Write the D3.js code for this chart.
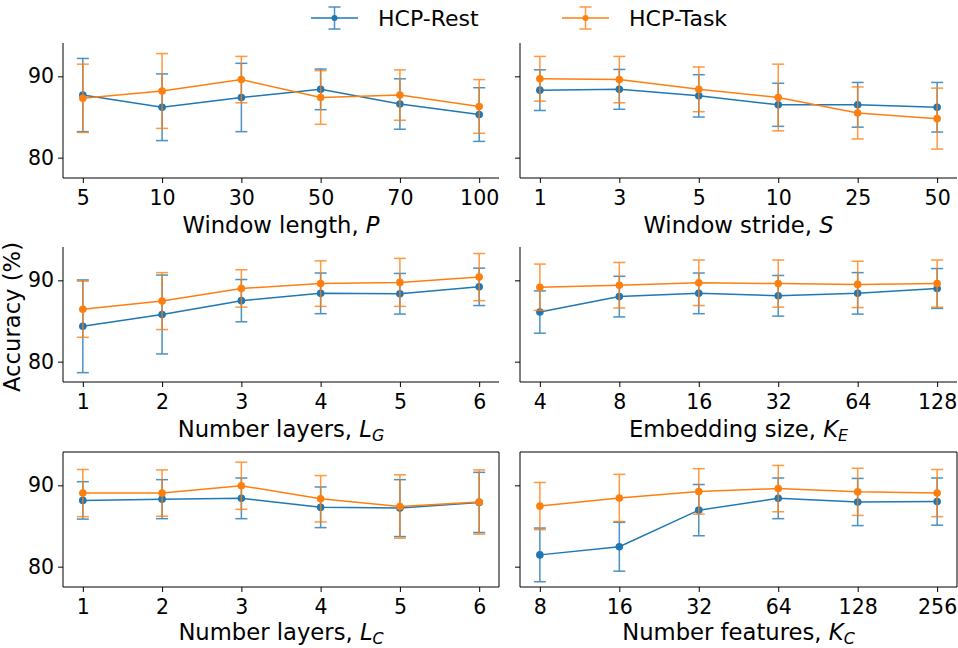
<!DOCTYPE html>
<html><head><meta charset="utf-8">
<script src="https://cdn.jsdelivr.net/npm/d3@7"></script>
<style>body{margin:0;background:#fff;} svg{display:block;font-family:"DejaVu Sans",sans-serif;}</style>
</head><body>
<svg id="c" width="958" height="648"></svg>
<script>
// ---- data ----
const seriesNames = ["HCP-Rest", "HCP-Task"];
const colors = ["#1f77b4", "#ff7f0e"];
const yTicks = [80, 90];

const catsP = ["5", "10", "30", "50", "70", "100"];
const restP = [87.7, 86.2, 87.4, 88.4, 86.6, 85.3];
const restPErr = [4.5, 4.1, 4.2, 2.5, 3.1, 3.3];
const taskP = [87.3, 88.2, 89.6, 87.4, 87.7, 86.3];
const taskPErr = [4.2, 4.6, 2.85, 3.3, 3.1, 3.3];

const catsS = ["1", "3", "5", "10", "25", "50"];
const restS = [88.3, 88.4, 87.6, 86.5, 86.5, 86.2];
const restSErr = [2.5, 2.45, 2.6, 2.65, 2.75, 3.05];
const taskS = [89.7, 89.6, 88.4, 87.4, 85.5, 84.8];
const taskSErr = [2.75, 2.85, 2.75, 4.1, 3.2, 3.75];

const catsLG = ["1", "2", "3", "4", "5", "6"];
const restLG = [84.35, 85.8, 87.5, 88.4, 88.35, 89.2];
const restLGErr = [5.7, 4.85, 2.6, 2.5, 2.5, 2.3];
const taskLG = [86.45, 87.45, 89.0, 89.6, 89.75, 90.4];
const taskLGErr = [3.45, 3.5, 2.3, 2.8, 2.95, 2.9];

const catsKE = ["4", "8", "16", "32", "64", "128"];
const restKE = [86.1, 88.0, 88.4, 88.1, 88.4, 89.0];
const restKEErr = [2.6, 2.5, 2.5, 2.5, 2.55, 2.45];
const taskKE = [89.15, 89.4, 89.7, 89.6, 89.5, 89.6];
const taskKEErr = [2.85, 2.8, 2.8, 2.9, 2.85, 2.9];

const catsLC = ["1", "2", "3", "4", "5", "6"];
const restLC = [88.15, 88.3, 88.4, 87.3, 87.2, 87.9];
const restLCErr = [2.3, 2.4, 2.5, 2.5, 3.5, 3.7];
const taskLC = [89.05, 89.05, 89.95, 88.35, 87.4, 87.95];
const taskLCErr = [2.9, 2.85, 2.9, 2.85, 3.9, 3.95];

const catsKC = ["8", "16", "32", "64", "128", "256"];
const restKC = [81.45, 82.45, 86.95, 88.4, 87.95, 88.0];
const restKCErr = [3.3, 3.0, 3.15, 2.5, 2.9, 2.9];
const taskKC = [87.45, 88.45, 89.25, 89.6, 89.2, 89.05];
const taskKCErr = [2.9, 2.9, 2.8, 2.85, 2.9, 2.9];

const xLabels = [
  [["Window length, ", ""], ["P", "i"]],
  [["Window stride, ", ""], ["S", "i"]],
  [["Number layers, ", ""], ["L", "i"], ["G", "is"]],
  [["Embedding size, ", ""], ["K", "i"], ["E", "is"]],
  [["Number layers, ", ""], ["L", "i"], ["C", "is"]],
  [["Number features, ", ""], ["K", "i"], ["C", "is"]]
];

const panels = [
  {cats: catsP, s: [[restP, restPErr], [taskP, taskPErr]]},
  {cats: catsS, s: [[restS, restSErr], [taskS, taskSErr]]},
  {cats: catsLG, s: [[restLG, restLGErr], [taskLG, taskLGErr]]},
  {cats: catsKE, s: [[restKE, restKEErr], [taskKE, taskKEErr]]},
  {cats: catsLC, s: [[restLC, restLCErr], [taskLC, taskLCErr]]},
  {cats: catsKC, s: [[restKC, restKCErr], [taskKC, taskKCErr]]}
];

// ---- layout ----
const svg = d3.select("#c");
const colX = [[63, 499], [520, 957]];
const rowY = [[43, 178], [247, 382], [452, 587]];
const tickFs = 20.5, labFs = 22.7;

panels.forEach((p, i) => {
  const col = i % 2, row = Math.floor(i / 2);
  const [x0, x1] = colX[col], [y0, y1] = rowY[row];
  const x = d3.scaleLinear().domain([-0.25, p.cats.length - 0.75]).range([x0, x1]);
  const y = d3.scaleLinear().domain([77.5, 94.1]).range([y1, y0]);
  const g = svg.append("g");

  // axes
  const xa = d3.axisBottom(x).tickValues(d3.range(p.cats.length)).tickFormat(d => p.cats[d]).tickSize(5).tickPadding(7);
  const gx = g.append("g").attr("transform", `translate(0,${y1})`).call(xa);
  const ya = d3.axisLeft(y).tickValues(yTicks).tickSize(5).tickPadding(4);
  if (col === 1) ya.tickFormat("");
  const gy = g.append("g").attr("transform", `translate(${x0},0)`).call(ya);
  [gx, gy].forEach(a => {
    a.select(".domain").remove();
    a.selectAll("line").attr("stroke", "#000").attr("stroke-width", 1);
    a.selectAll("text").attr("font-size", tickFs).attr("fill", "#000").attr("font-family", "DejaVu Sans");
  });
  // spines
  const sp = g.append("g").attr("stroke", "#000").attr("stroke-width", 1).attr("fill", "none");
  sp.append("line").attr("x1", x0).attr("x2", x0).attr("y1", y0).attr("y2", y1);
  sp.append("line").attr("x1", x0).attr("x2", x1).attr("y1", y1).attr("y2", y1);
  if (row === 2) {
    sp.append("line").attr("x1", x0).attr("x2", x1).attr("y1", y0).attr("y2", y0);
    sp.append("line").attr("x1", x1).attr("x2", x1).attr("y1", y0).attr("y2", y1);
  }

  // series
  p.s.forEach(([vals, errs], k) => {
    const c = colors[k];
    const sg = g.append("g");
    const eb = sg.append("g").attr("stroke", c).attr("stroke-width", 1.5).attr("opacity", 0.8);
    vals.forEach((v, j) => {
      const cx = x(j);
      eb.append("line").attr("x1", cx).attr("x2", cx).attr("y1", y(v - errs[j])).attr("y2", y(v + errs[j]));
      eb.append("line").attr("x1", cx - 6).attr("x2", cx + 6).attr("y1", y(v - errs[j])).attr("y2", y(v - errs[j]));
      eb.append("line").attr("x1", cx - 6).attr("x2", cx + 6).attr("y1", y(v + errs[j])).attr("y2", y(v + errs[j]));
    });
    sg.append("path").datum(vals)
      .attr("d", d3.line().x((d, j) => x(j)).y(d => y(d)))
      .attr("fill", "none").attr("stroke", c).attr("stroke-width", 1.5);
    sg.selectAll("circle").data(vals).enter().append("circle")
      .attr("cx", (d, j) => x(j)).attr("cy", d => y(d)).attr("r", 3.8).attr("fill", c);
  });

  // x label
  const t = svg.append("text").attr("x", (x0 + x1) / 2).attr("y", y1 + (row === 2 ? 53 : 55))
    .attr("text-anchor", "middle").attr("font-size", labFs).attr("fill", "#000");
  xLabels[i].forEach(([s, st]) => {
    const ts = t.append("tspan").text(s);
    if (st.includes("i")) ts.attr("font-style", "italic");
    if (st.includes("s")) ts.attr("font-size", labFs * 0.7).attr("dy", 4);
  });
});

// y label
svg.append("text").attr("transform", "translate(20,317) rotate(-90)")
  .attr("text-anchor", "middle").attr("font-size", labFs).attr("fill", "#000").text("Accuracy (%)");

// legend
const leg = svg.append("g");
const legX = [311, 562];
seriesNames.forEach((n, k) => {
  const lx = legX[k], ly = 18, c = colors[k];
  const lg = leg.append("g");
  lg.append("line").attr("x1", lx).attr("x2", lx + 47).attr("y1", ly).attr("y2", ly).attr("stroke", c).attr("stroke-width", 1.5);
  const cx = lx + 23.5;
  const e = lg.append("g").attr("stroke", c).attr("stroke-width", 1.5).attr("opacity", 0.8);
  e.append("line").attr("x1", cx).attr("x2", cx).attr("y1", ly - 11).attr("y2", ly + 11);
  e.append("line").attr("x1", cx - 6).attr("x2", cx + 6).attr("y1", ly - 11).attr("y2", ly - 11);
  e.append("line").attr("x1", cx - 6).attr("x2", cx + 6).attr("y1", ly + 11).attr("y2", ly + 11);
  lg.append("circle").attr("cx", cx).attr("cy", ly).attr("r", 3).attr("fill", c);
  lg.append("text").attr("x", lx + 67).attr("y", ly + 8).attr("font-size", 22).attr("fill", "#000").text(n);
});
</script>
</body></html>
